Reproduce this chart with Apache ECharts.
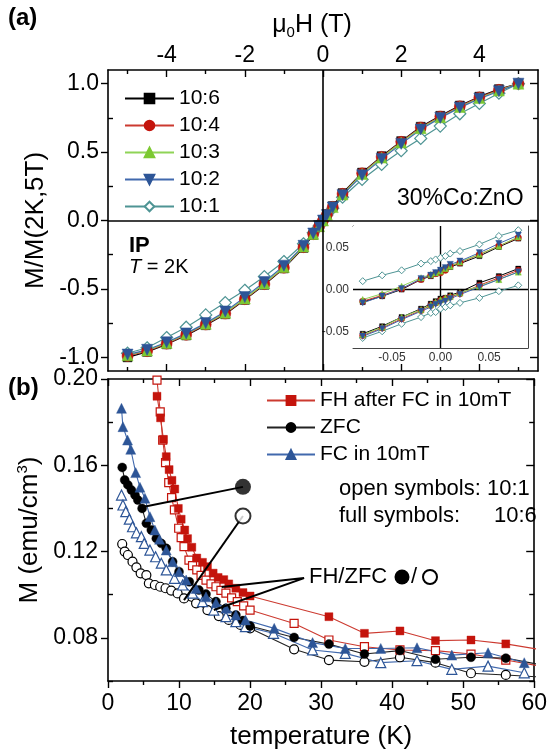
<!DOCTYPE html>
<html><head><meta charset="utf-8">
<script src="https://cdn.jsdelivr.net/npm/echarts@6/dist/echarts.min.js"></script>
<style>html,body{margin:0;padding:0;background:#fff}#c{width:550px;height:752px}</style>
</head><body><div id="c"></div>
<script>
// ---------- Panel (a): main hysteresis ----------
const fieldA = [-5,-4.5,-4,-3.5,-3,-2.5,-2,-1.5,-1,-0.5,-0.25,-0.1,0,0.1,0.25,0.5,1,1.5,2,2.5,3,3.5,4,4.5,5];
const mA_106 = [-1.0,-0.96,-0.905,-0.84,-0.765,-0.685,-0.58,-0.47,-0.35,-0.2,-0.105,-0.045,0,0.045,0.105,0.2,0.35,0.47,0.58,0.685,0.765,0.84,0.905,0.96,1.0];
const mA_104 = [-0.99,-0.955,-0.9,-0.835,-0.76,-0.68,-0.575,-0.465,-0.345,-0.195,-0.1,-0.043,0,0.043,0.1,0.195,0.345,0.465,0.575,0.68,0.76,0.835,0.9,0.955,1.0];
const mA_103 = [-0.985,-0.95,-0.895,-0.83,-0.755,-0.675,-0.57,-0.46,-0.34,-0.19,-0.098,-0.042,0,0.042,0.098,0.19,0.34,0.46,0.57,0.675,0.755,0.83,0.895,0.95,1.0];
const mA_102 = [-0.98,-0.945,-0.89,-0.825,-0.75,-0.665,-0.56,-0.45,-0.33,-0.185,-0.095,-0.04,0,0.04,0.095,0.185,0.33,0.45,0.56,0.665,0.75,0.825,0.89,0.945,1.0];
const mA_101 = [-0.97,-0.93,-0.855,-0.78,-0.69,-0.6,-0.51,-0.41,-0.3,-0.17,-0.09,-0.04,0,0.04,0.09,0.17,0.3,0.41,0.51,0.6,0.69,0.78,0.855,0.93,1.0];

// ---------- Panel (a): inset, two branches ----------
const fieldIn = [-0.08,-0.06,-0.04,-0.02,-0.01,-0.005,0,0.005,0.01,0.02,0.04,0.06,0.08];
const up_106 = [-0.015,-0.008,0.000,0.012,0.016,0.019,0.022,0.025,0.027,0.031,0.040,0.051,0.061];
const up_104 = [-0.014,-0.007,0.001,0.012,0.017,0.019,0.020,0.023,0.028,0.032,0.042,0.052,0.062];
const up_103 = [-0.012,-0.005,0.004,0.014,0.018,0.020,0.022,0.025,0.028,0.033,0.042,0.052,0.063];
const up_102 = [-0.016,-0.008,0.001,0.013,0.017,0.020,0.023,0.026,0.030,0.034,0.044,0.055,0.065];
const up_101 = [0.010,0.017,0.023,0.031,0.034,0.036,0.038,0.040,0.043,0.046,0.054,0.064,0.071];
const lo_106 = [-0.053,-0.044,-0.033,-0.023,-0.017,-0.014,-0.011,-0.010,-0.007,-0.003,0.008,0.016,0.025];
const lo_104 = [-0.055,-0.046,-0.035,-0.025,-0.019,-0.016,-0.013,-0.011,-0.009,-0.005,0.005,0.014,0.023];
const lo_103 = [-0.054,-0.045,-0.033,-0.024,-0.018,-0.015,-0.012,-0.010,-0.008,-0.004,0.004,0.012,0.021];
const lo_102 = [-0.056,-0.047,-0.036,-0.026,-0.021,-0.018,-0.016,-0.014,-0.011,-0.006,0.003,0.012,0.021];
const lo_101 = [-0.058,-0.050,-0.041,-0.033,-0.028,-0.027,-0.023,-0.021,-0.019,-0.016,-0.010,-0.002,0.005];

// ---------- Panel (b): M vs T ----------
const fhT_106 = [6.9,7.4,7.8,8.2,8.6,9.0,9.4,9.9,10.3,10.8,11.2,11.8,12.5,13.3,14.0,14.8,15.5,16.3,17.0,18.0,19.0,20.0,31.1,36.1,41.1,46.1,51.1,56.0,61];
const fhM_106 = [0.192,0.182,0.172,0.164,0.158,0.153,0.149,0.140,0.135,0.130,0.126,0.122,0.117,0.115,0.113,0.110,0.108,0.107,0.105,0.103,0.101,0.0994,0.0898,0.0821,0.0832,0.0787,0.0790,0.0772,0.0745];
const fhT_101 = [6.9,7.35,7.7,8.1,8.55,8.95,9.35,9.95,10.3,10.7,11.4,11.9,12.5,13.1,13.8,14.5,15.2,15.9,16.6,17.4,18.2,19.1,20.0,26.2,31.1,36.1,41.1,46.1,51.1,56.0,61];
const fhM_101 = [0.1995,0.1848,0.1717,0.1612,0.152,0.145,0.1393,0.1308,0.1265,0.1223,0.116,0.1135,0.1115,0.109,0.1068,0.105,0.1037,0.102,0.1007,0.0985,0.0968,0.0948,0.0929,0.0867,0.0790,0.0759,0.0744,0.0741,0.0725,0.0697,0.0668];
const zfcT_106 = [2.0,2.35,2.8,3.3,3.8,4.2,4.8,5.4,6.1,6.8,7.5,8.2,9.1,10.0,11.45,12.8,13.8,15.2,16.6,18.0,19.0,20.0,26.2,31.1,36.1,41.1,46.1,51.1,56.0,61];
const zfcM_106 = [0.159,0.1532,0.1509,0.1485,0.1462,0.1439,0.14,0.1331,0.13,0.1261,0.1238,0.1215,0.1153,0.1107,0.106,0.1022,0.1003,0.0968,0.0937,0.0906,0.088,0.0855,0.0802,0.0771,0.0725,0.0741,0.0701,0.0710,0.0706,0.0675];
const zfcT_101 = [2.0,2.35,2.8,3.45,4.0,4.6,5.4,5.75,6.6,7.35,8.1,8.9,9.8,10.7,12.4,14.0,15.6,17.0,18.65,20.0,26.2,31.1,36.1,41.1,46.1,51.1,56.0,61];
const zfcM_101 = [0.1235,0.12,0.1184,0.1153,0.1127,0.1099,0.1091,0.1053,0.1045,0.1037,0.103,0.1019,0.1006,0.0983,0.096,0.0929,0.0901,0.0883,0.086,0.0844,0.0747,0.0697,0.0689,0.071,0.0685,0.0636,0.0628,0.0618];
const fcT_106 = [1.9,2.1,2.75,3.2,3.9,4.5,5.2,5.9,6.6,7.25,8.2,9.1,10.0,11.0,12.4,13.8,15.2,16.6,18.0,19.35,23.4,28.8,33.4,38.4,43.5,48.4,53.5,58.6];
const fcM_106 = [0.1864,0.1779,0.1717,0.1674,0.1566,0.1498,0.1447,0.1362,0.13,0.1257,0.1207,0.1153,0.1107,0.1068,0.1029,0.099,0.0963,0.0937,0.0906,0.0883,0.0844,0.0778,0.0751,0.0751,0.0754,0.072,0.0731,0.0685];
const fcT_101 = [1.9,2.1,2.5,3.0,3.45,4.0,4.7,5.1,5.9,6.7,7.5,8.2,9.35,10.5,11.9,13.3,14.9,16.6,18.0,19.35,23.3,28.8,33.4,38.4,43.5,48.4,53.5,58.6];
const fcM_101 = [0.1462,0.1416,0.1385,0.135,0.1315,0.1287,0.1269,0.1238,0.1207,0.1176,0.1146,0.1115,0.1076,0.1045,0.1007,0.0968,0.0929,0.0898,0.0875,0.0852,0.0821,0.0744,0.0728,0.0685,0.0694,0.0654,0.0669,0.0638];

// annotation pointers (panel b, data coords)
const annFullLine = [[4.9,0.1407],[19,0.150]];
const annOpenLine = [[10.7,0.0975],[19,0.1365]];
const annFullDot = [[19,0.150]];
const annOpenDot = [[19,0.1365]];
const annFhZfc = [[16.0,0.1036],[27.6,0.1077],[14.9,0.0929]];

// tick values
const aXMajor = [-4,-2,0,2,4], aXMinor = [-5,-3,-1,1,3,5];
const aYMajor = [-1,-0.5,0,0.5,1], aYMinor = [-0.75,-0.25,0.25,0.75];
const inXMajor = [-0.05,0,0.05], inYMajor = [-0.05,0,0.05];
const bYMajor = [0.08,0.12,0.16,0.20], bYMinor = [0.06,0.10,0.14,0.18];

const FONT = 'Liberation Sans, Arial, sans-serif';
const zip = (a,b) => a.map((v,i)=>[v,b[i]]);

const C = {
  k:'#000000', r:'#c4140c', rl:'#cc3a30', g:'#7cc932', gl:'#8fd457', b:'#2d5597', bl:'#4169ad', t:'#4e9494'
};

const samples = [
  {name:'10:1', main:mA_101, up:up_101, lo:lo_101, sym:'diamond', size:12, fill:'#ffffff', border:C.t, line:C.t, rot:0},
  {name:'10:6', main:mA_106, up:up_106, lo:lo_106, sym:'rect', size:9, fill:C.k, border:C.k, line:C.k, rot:0},
  {name:'10:4', main:mA_104, up:up_104, lo:lo_104, sym:'circle', size:11, fill:C.r, border:C.r, line:C.rl, rot:0},
  {name:'10:3', main:mA_103, up:up_103, lo:lo_103, sym:'triangle', size:11, fill:C.g, border:C.g, line:C.gl, rot:0},
  {name:'10:2', main:mA_102, up:up_102, lo:lo_102, sym:'triangle', size:11, fill:C.b, border:C.b, line:C.bl, rot:180}
];

const series = [];
samples.forEach(s => {
  series.push({
    type:'line', name:s.name, xAxisIndex:0, yAxisIndex:0, data: zip(fieldA, s.main),
    symbol:s.sym, symbolSize:s.size, symbolRotate:s.rot, showAllSymbol:true,
    itemStyle:{color:s.fill, borderColor:s.border, borderWidth: s.fill==='#ffffff'?1.2:0.5},
    lineStyle:{color:s.line, width:1.2}, z:3
  });
  [s.up, s.lo].forEach(br => series.push({
    type:'line', name:s.name, xAxisIndex:4, yAxisIndex:4, data: zip(fieldIn, br),
    symbol:s.sym, symbolSize:s.size*0.58, symbolRotate:s.rot, showAllSymbol:true,
    itemStyle:{color:s.fill, borderColor:s.border, borderWidth: s.fill==='#ffffff'?1:0.3},
    lineStyle:{color:s.line, width:1}, z:5
  }));
});
// zero lines (main + inset)
series.push({type:'line', xAxisIndex:0, yAxisIndex:0, data:[], silent:true,
  markLine:{silent:true, symbol:'none', label:{show:false}, lineStyle:{color:'#000', width:1.6, type:'solid'},
    data:[{xAxis:0},{yAxis:0}]}, z:2});
series.push({type:'line', xAxisIndex:4, yAxisIndex:4, data:[], silent:true,
  markLine:{silent:true, symbol:'none', label:{show:false}, lineStyle:{color:'#000', width:1.4, type:'solid'},
    data:[{xAxis:0},{yAxis:0}]}, z:4});

// panel b
function bSeries(name, T, M, sym, size, fill, border, line, rot){
  return {type:'line', name, xAxisIndex:6, yAxisIndex:8, data: zip(T,M),
    symbol:sym, symbolSize:size, symbolRotate:rot||0, showAllSymbol:true,
    itemStyle:{color:fill, borderColor:border, borderWidth: fill==='#ffffff'?1.2:0.4},
    lineStyle:{color:line, width:1.1}, z:3};
}
series.push(bSeries('ZFC (10:1)', zfcT_101, zfcM_101, 'circle', 9, '#ffffff', C.k, '#222'));
series.push(bSeries('FC (10:1)', fcT_101, fcM_101, 'triangle', 10, '#ffffff', C.b, C.bl));
series.push(bSeries('FH (10:1)', fhT_101, fhM_101, 'rect', 8, '#ffffff', C.r, C.rl));
series.push(bSeries('ZFC', zfcT_106, zfcM_106, 'circle', 9, C.k, C.k, '#222'));
series.push(bSeries('FC in 10mT', fcT_106, fcM_106, 'triangle', 10, C.b, C.b, C.bl));
series.push(bSeries('FH after FC in 10mT', fhT_106, fhM_106, 'rect', 8, C.r, C.r, C.rl));
// annotation pointers
[annFullLine, annOpenLine].forEach(d => series.push({type:'line', xAxisIndex:6, yAxisIndex:8, data:d, symbol:'none',
  lineStyle:{color:'#000', width:2}, z:6, silent:true}));
series.push({type:'line', xAxisIndex:6, yAxisIndex:8, data:annFhZfc, symbol:'none', lineStyle:{color:'#000', width:2}, z:6, silent:true});
series.push({type:'scatter', xAxisIndex:6, yAxisIndex:8, data:annFullDot, symbol:'circle', symbolSize:16,
  itemStyle:{color:'#000'}, z:7, silent:true});
series.push({type:'scatter', xAxisIndex:6, yAxisIndex:8, data:annOpenDot, symbol:'circle', symbolSize:15,
  itemStyle:{color:'#fff', borderColor:'#000', borderWidth:2}, z:7, silent:true});

const axLine = {show:true, onZero:false, lineStyle:{color:'#000', width:1.6}};
const noLine = {show:false, onZero:false};
const inLine = {show:true, onZero:false, lineStyle:{color:'#444', width:1}};
const lab = (extra) => Object.assign({color:'#000', fontFamily:FONT, fontSize:23}, extra||{});

function tickAxis(gridIndex, pos, min, max, vals, len, inside, line){
  return {type:'value', gridIndex, position:pos, min, max, splitLine:{show:false},
    axisLine: line?axLine:noLine, axisLabel:{show:false},
    axisTick:{show:true, inside, length:len, customValues:vals, lineStyle:{color:'#000', width:1.4}}};
}

const xAxis = [
  // 0: panel a top labeled
  {type:'value', gridIndex:0, position:'top', min:-5.5, max:5.5, splitLine:{show:false}, axisLine:axLine,
   axisTick:{show:true, inside:true, length:7, customValues:aXMajor, lineStyle:{color:'#000', width:1.4}},
   axisLabel:lab({customValues:aXMajor, margin:3}),
   name:'μ{sub|0}H (T)', nameLocation:'middle', nameGap:30,
   nameTextStyle:{color:'#000', fontFamily:FONT, fontSize:25, padding:[0,22,0,0],
     rich:{sub:{fontSize:15, verticalAlign:'bottom', padding:[14,0,0,0], fontFamily:FONT}}}},
  tickAxis(0,'top',-5.5,5.5,aXMinor,4,true,false),
  tickAxis(0,'bottom',-5.5,5.5,aXMajor,7,true,true),
  tickAxis(0,'bottom',-5.5,5.5,aXMinor,4,true,false),
  // 4: inset bottom
  {type:'value', gridIndex:1, position:'bottom', min:-0.09, max:0.09, splitLine:{show:false},
   axisLine:inLine,
   axisTick:{show:true, inside:true, length:3, customValues:inXMajor, lineStyle:{color:'#444'}},
   axisLabel:{customValues:inXMajor, formatter:v=>v.toFixed(2), color:'#333', fontFamily:FONT, fontSize:12, margin:4}},
  {type:'value', gridIndex:1, position:'top', min:-0.09, max:0.09, splitLine:{show:false},
   axisLine:inLine, axisLabel:{show:false},
   axisTick:{show:true, inside:true, length:3, customValues:inXMajor, lineStyle:{color:'#444'}}},
  // 6: panel b bottom labeled
  {type:'value', gridIndex:2, position:'bottom', min:0, max:60, interval:10, splitLine:{show:false}, axisLine:axLine,
   axisTick:{show:true, inside:false, length:7, lineStyle:{color:'#000', width:1.4}},
   minorTick:{show:true, splitNumber:2, length:4, lineStyle:{color:'#000', width:1.4}},
   axisLabel:lab({margin:11}),
   name:'temperature (K)', nameLocation:'middle', nameGap:43, nameTextStyle:{color:'#000', fontFamily:FONT, fontSize:26}},
  {type:'value', gridIndex:2, position:'top', min:0, max:60, interval:10, splitLine:{show:false}, axisLine:axLine,
   axisTick:{show:true, inside:true, length:7, lineStyle:{color:'#000', width:1.4}},
   minorTick:{show:true, splitNumber:2, length:4, lineStyle:{color:'#000', width:1.4}},
   axisLabel:{show:false}}
];

const yAxis = [
  // 0: panel a left labeled
  {type:'value', gridIndex:0, position:'left', min:-1.1, max:1.1, splitLine:{show:false}, axisLine:axLine,
   axisTick:{show:true, inside:false, length:7, customValues:aYMajor, lineStyle:{color:'#000', width:1.4}},
   axisLabel:lab({customValues:aYMajor, formatter:v=>v.toFixed(1), margin:9}),
   name:'M/M(2K,5T)', nameLocation:'middle', nameGap:56, nameTextStyle:{color:'#000', fontFamily:FONT, fontSize:26}},
  tickAxis(0,'left',-1.1,1.1,aYMinor,5,true,false),
  tickAxis(0,'right',-1.1,1.1,aYMajor,8,true,true),
  tickAxis(0,'right',-1.1,1.1,aYMinor,5,true,false),
  // 4: inset left
  {type:'value', gridIndex:1, position:'left', min:-0.07, max:0.076, splitLine:{show:false},
   axisLine:inLine,
   axisTick:{show:true, inside:true, length:3, customValues:inYMajor, lineStyle:{color:'#444'}},
   axisLabel:{customValues:inYMajor, formatter:v=>v.toFixed(2), color:'#333', fontFamily:FONT, fontSize:12, margin:4}},
  {type:'value', gridIndex:1, position:'right', min:-0.07, max:0.076, splitLine:{show:false},
   axisLine:inLine, axisLabel:{show:false},
   axisTick:{show:true, inside:true, length:3, customValues:inYMajor, lineStyle:{color:'#444'}}},
  tickAxis(1,'left',-0.07,0.076,[],1,true,false),
  tickAxis(1,'left',-0.07,0.076,[],1,true,false),
  // 8: panel b left labeled
  {type:'value', gridIndex:2, position:'left', min:0.06, max:0.20, splitLine:{show:false}, axisLine:axLine,
   axisTick:{show:true, inside:false, length:7, customValues:bYMajor, lineStyle:{color:'#000', width:1.4}},
   axisLabel:lab({customValues:bYMajor, formatter:v=>v.toFixed(2), margin:10}),
   name:'M (emu/cm{sup|3})', nameLocation:'middle', nameGap:56,
   nameTextStyle:{color:'#000', fontFamily:FONT, fontSize:26, rich:{sup:{fontSize:15, verticalAlign:'top', padding:[0,0,12,0], fontFamily:FONT}}}},
  tickAxis(2,'left',0.06,0.20,bYMinor,5,true,false),
  tickAxis(2,'right',0.06,0.20,bYMajor,8,true,true),
  tickAxis(2,'right',0.06,0.20,bYMinor,5,true,false)
];

const txt = (left, top, text, extra) => ({type:'text', left, top, z:20,
  style:Object.assign({text, fill:'#000', font:'22px ' + FONT}, extra||{})});

const option = {
  backgroundColor:'#fff',
  animation:false,
  grid:[
    {left:108, top:70, width:430, height:301, show:false},
    {left:353, top:226, width:175, height:122, show:true, backgroundColor:'#fff', borderWidth:0, z:4},
    {left:108, top:379, width:430, height:302, show:false}
  ],
  xAxis, yAxis,
  legend:[
    {orient:'vertical', left:124, top:88, padding:0, itemWidth:49, itemHeight:12, itemGap:6,
     data:['10:6','10:4','10:3','10:2','10:1'], textStyle:{fontFamily:FONT, fontSize:21, color:'#000'}, selectedMode:false},
    {orient:'vertical', left:266, top:390, padding:0, itemWidth:48, itemHeight:11, itemGap:6,
     data:['FH after FC in 10mT','ZFC','FC in 10mT'], textStyle:{fontFamily:FONT, fontSize:21, color:'#000'}, selectedMode:false}
  ],
  graphic:[
    txt(8, 6, '(a)', {font:'bold 24px ' + FONT}),
    txt(8, 376, '(b)', {font:'bold 24px ' + FONT}),
    txt(397, 187, '30%Co:ZnO', {font:'23px ' + FONT}),
    txt(129, 235, 'IP', {font:'bold 22px ' + FONT}),
    {type:'text', left:129, top:257, z:20, style:{text:'{i|T} = 2K', font:'20px ' + FONT, fill:'#000',
      rich:{i:{fontStyle:'italic', fontFamily:FONT, fontSize:20}}}},
    txt(339, 478, 'open symbols: 10:1', {font:'22px ' + FONT}),
    txt(339, 505, 'full symbols:', {font:'22px ' + FONT}),
    txt(494, 505, '10:6', {font:'22px ' + FONT}),
    txt(309, 566, 'FH/ZFC', {font:'22px ' + FONT}),
    {type:'circle', shape:{cx:402, cy:577, r:7.5}, style:{fill:'#000'}, z:20},
    txt(411, 566, '/', {font:'22px ' + FONT}),
    {type:'circle', shape:{cx:430, cy:577, r:7}, style:{fill:'#fff', stroke:'#000', lineWidth:2}, z:20}
  ],
  series
};
const chart = echarts.init(document.getElementById('c'), null, {renderer:'canvas'});
chart.setOption(option);
</script></body></html>
